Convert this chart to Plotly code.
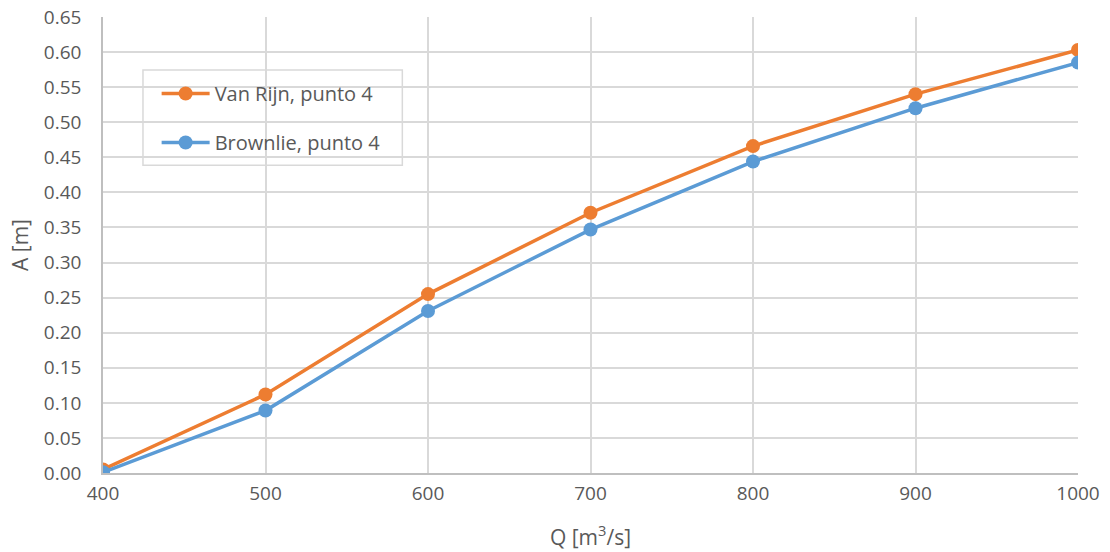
import plotly.graph_objects as go

# Discharge values (m^3/s)
q_values = [400, 500, 600, 700, 800, 900, 1000]
# Amplitude A (m) for each method
van_rijn = [0.005, 0.112, 0.255, 0.371, 0.466, 0.540, 0.603]
brownlie = [0.001, 0.089, 0.231, 0.347, 0.444, 0.520, 0.585]

y_ticks = [round(0.05 * i, 2) for i in range(14)]
y_labels = [f"{v:.2f}" for v in y_ticks]

font_family = "Open Sans, Liberation Sans, sans-serif"
text_color = "#595959"
grid_color = "#d9d9d9"

fig = go.Figure()
fig.add_trace(go.Scatter(
    x=q_values, y=van_rijn, name="Van Rijn, punto 4", legendgroup="vr",
    mode="lines+markers",
    line=dict(color="#ED7D31", width=3.5),
    marker=dict(color="#ED7D31", size=14),
))
fig.add_trace(go.Scatter(
    x=q_values, y=brownlie, name="Brownlie, punto 4", legendgroup="br",
    mode="lines+markers",
    line=dict(color="#5B9BD5", width=3.5),
    marker=dict(color="#5B9BD5", size=14),
))

# legend frame
fig.add_shape(
    type="rect", xref="paper", yref="paper",
    x0=0.041, x1=0.307, y0=0.675, y1=0.884,
    line=dict(color=grid_color, width=1.5), fillcolor="white", layer="below",
)

fig.update_layout(
    width=1110, height=552,
    margin=dict(l=103, r=32, t=17, b=79),
    paper_bgcolor="white", plot_bgcolor="white",
    font=dict(family=font_family, size=19, color=text_color),
    showlegend=True,
    legend=dict(
        x=0.055, y=0.875, xanchor="left", yanchor="top",
        borderwidth=0, bgcolor="rgba(0,0,0,0)",
        font=dict(size=20, color=text_color),
        itemwidth=48, tracegroupgap=20,
    ),
    xaxis=dict(
        range=[400, 1000], tickvals=q_values,
        showgrid=True, gridcolor=grid_color, gridwidth=1.5,
        showline=True, linecolor="#bfbfbf", linewidth=1.5,
        zeroline=False, ticks="outside", ticklen=2, tickcolor="rgba(0,0,0,0)",
        automargin=False,
        title=dict(text="Q [m<sup>3</sup>/s]", font=dict(size=21, color=text_color), standoff=26),
    ),
    yaxis=dict(
        range=[0, 0.65], tickvals=y_ticks, ticktext=y_labels,
        showgrid=True, gridcolor=grid_color, gridwidth=1.5,
        showline=True, linecolor="#bfbfbf", linewidth=1.5,
        zeroline=False, ticks="outside", ticklen=16, tickcolor="rgba(0,0,0,0)",
        automargin="left",
        title=dict(text="A [m]", font=dict(size=21, color=text_color), standoff=10),
    ),
)

fig.write_html("out.html")
